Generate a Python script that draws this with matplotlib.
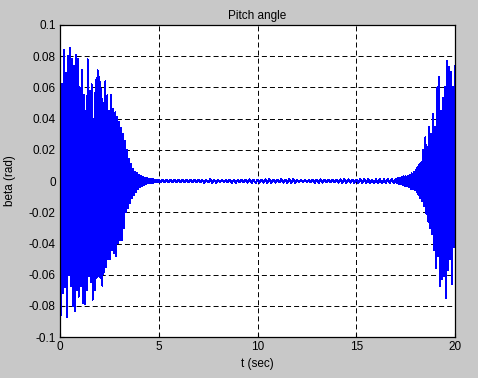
import numpy as np
import matplotlib
matplotlib.use('Agg')
import matplotlib.pyplot as plt

# peak values (upper / lower swing every 0.1 s)
t_left = [0.0, 0.1, 0.2, 0.3, 0.4, 0.5, 0.6, 0.7, 0.8, 0.9,
          1.0, 1.1, 1.2, 1.3, 1.4, 1.5, 1.6, 1.7, 1.8, 1.9,
          2.0, 2.1, 2.2, 2.3, 2.4, 2.5, 2.6, 2.7, 2.8, 2.9,
          3.0, 3.1, 3.2, 3.3, 3.4, 3.5, 3.6, 3.7, 3.8, 3.9,
          4.0, 4.1, 4.2, 4.3, 4.4, 4.5, 4.6, 4.7, 4.8, 4.9]
up_left = [0.087, 0.062, 0.084, 0.069, 0.080, 0.085, 0.078, 0.074, 0.081, 0.078,
           0.060, 0.071, 0.055, 0.045, 0.078, 0.058, 0.062, 0.040, 0.065, 0.071,
           0.067, 0.059, 0.050, 0.064, 0.055, 0.045, 0.055, 0.046, 0.044, 0.041,
           0.038, 0.034, 0.030, 0.026, 0.020, 0.014, 0.011, 0.008, 0.006, 0.005,
           0.004, 0.003, 0.0025, 0.002, 0.0018, 0.0015, 0.0012, 0.0011, 0.0010, 0.0010]
lo_left = [-0.086, -0.072, -0.068, -0.087, -0.060, -0.067, -0.080, -0.083, -0.070, -0.074,
           -0.067, -0.078, -0.079, -0.070, -0.061, -0.065, -0.076, -0.070, -0.062, -0.061,
           -0.062, -0.067, -0.058, -0.055, -0.050, -0.050, -0.044, -0.046, -0.048, -0.040,
           -0.038, -0.038, -0.030, -0.020, -0.017, -0.014, -0.011, -0.009, -0.007, -0.005,
           -0.004, -0.003, -0.0025, -0.002, -0.0016, -0.0014, -0.0011, -0.0010, -0.0009, -0.0008]

# small ripple in the middle (every 0.2 s)
t_mid = [5.0, 5.2, 5.4, 5.6, 5.8, 6.0, 6.2, 6.4, 6.6, 6.8,
         7.0, 7.2, 7.4, 7.6, 7.8, 8.0, 8.2, 8.4, 8.6, 8.8,
         9.0, 9.2, 9.4, 9.6, 9.8, 10.0, 10.2, 10.4, 10.6, 10.8,
         11.0, 11.2, 11.4, 11.6, 11.8, 12.0, 12.2, 12.4, 12.6, 12.8,
         13.0, 13.2, 13.4, 13.6, 13.8, 14.0, 14.2, 14.4, 14.6, 14.8,
         15.0, 15.2, 15.4, 15.6, 15.8, 16.0, 16.2, 16.4, 16.6, 16.8]
up_mid = [0.0009, 0.0008, 0.0009, 0.0007, 0.0008, 0.0009, 0.0008, 0.0007, 0.0008, 0.0009,
          0.0010, 0.0008, 0.0009, 0.0011, 0.0010, 0.0009, 0.0008, 0.0009, 0.0010, 0.0008,
          0.0007, 0.0008, 0.0009, 0.0011, 0.0010, 0.0009, 0.0010, 0.0011, 0.0012, 0.0010,
          0.0009, 0.0011, 0.0010, 0.0012, 0.0011, 0.0009, 0.0008, 0.0007, 0.0008, 0.0009,
          0.0010, 0.0011, 0.0010, 0.0009, 0.0008, 0.0010, 0.0011, 0.0012, 0.0011, 0.0010,
          0.0009, 0.0011, 0.0012, 0.0011, 0.0010, 0.0012, 0.0013, 0.0012, 0.0013, 0.0014]
lo_mid = [-0.0008, -0.0007, -0.0008, -0.0008, -0.0007, -0.0008, -0.0009, -0.0008, -0.0007, -0.0008,
          -0.0009, -0.0010, -0.0009, -0.0011, -0.0010, -0.0009, -0.0008, -0.0009, -0.0010, -0.0011,
          -0.0009, -0.0008, -0.0010, -0.0011, -0.0012, -0.0010, -0.0011, -0.0012, -0.0011, -0.0010,
          -0.0009, -0.0010, -0.0011, -0.0012, -0.0010, -0.0009, -0.0008, -0.0008, -0.0009, -0.0010,
          -0.0011, -0.0010, -0.0009, -0.0008, -0.0009, -0.0011, -0.0012, -0.0011, -0.0010, -0.0011,
          -0.0012, -0.0011, -0.0012, -0.0013, -0.0012, -0.0013, -0.0014, -0.0013, -0.0014, -0.0015]

t_right = [17.0, 17.1, 17.2, 17.3, 17.4, 17.5, 17.6, 17.7, 17.8, 17.9,
           18.0, 18.1, 18.2, 18.3, 18.4, 18.5, 18.6, 18.7, 18.8, 18.9,
           19.0, 19.1, 19.2, 19.3, 19.4, 19.5, 19.6, 19.7, 19.8, 19.9, 20.0]
up_right = [0.0015, 0.0018, 0.0020, 0.0025, 0.0030, 0.0030, 0.0035, 0.0040, 0.0050, 0.0060,
            0.0070, 0.0090, 0.0110, 0.0120, 0.0200, 0.0280, 0.0220, 0.0350, 0.0300, 0.0430,
            0.0350, 0.0600, 0.0670, 0.0450, 0.0530, 0.0600, 0.0770, 0.0730, 0.0700, 0.0600, 0.0740]
lo_right = [-0.0015, -0.0018, -0.0020, -0.0025, -0.0030, -0.0030, -0.0040, -0.0050, -0.0050, -0.0060,
            -0.0070, -0.0090, -0.0110, -0.0130, -0.0160, -0.0210, -0.0260, -0.0300, -0.0340, -0.0440,
            -0.0560, -0.0480, -0.0670, -0.0630, -0.0610, -0.0750, -0.0570, -0.0500, -0.0660, -0.0420, -0.0620]

y_ticks = [-0.1, -0.08, -0.06, -0.04, -0.02, 0, 0.02, 0.04, 0.06, 0.08, 0.1]
y_labels = ['-0.1', '-0.08', '-0.06', '-0.04', '-0.02', '0',
            '0.02', '0.04', '0.06', '0.08', '0.1']
x_ticks = [0, 5, 10, 15, 20]


def zigzag(ts, ups, los, dt):
    # alternate the upper and lower swing so the trace looks like the sampled signal
    tt, yy = [], []
    for t, u, l in zip(ts, ups, los):
        tt += [t, t + dt / 2]
        yy += [u, l]
    return tt, yy


segs = [zigzag(t_left, up_left, lo_left, 0.1),
        zigzag(t_mid, up_mid, lo_mid, 0.2),
        zigzag(t_right, up_right, lo_right, 0.1)]
t_all = np.concatenate([s[0] for s in segs])
y_all = np.concatenate([s[1] for s in segs])
keep = t_all <= 20
t_all, y_all = t_all[keep], y_all[keep]

plt.rcParams['font.family'] = ['Liberation Sans', 'DejaVu Sans']
plt.rcParams['lines.scale_dashes'] = False

fig = plt.figure(figsize=(4.78, 3.78), dpi=100, facecolor='#c8c8c8')
ax = fig.add_axes([0.1255, 0.108, 0.8265, 0.826])
ax.plot(t_all, y_all, color='#0000ff', lw=0.7, antialiased=False)

ax.set_xlim(0, 20)
ax.set_ylim(-0.1, 0.1)
ax.set_xticks(x_ticks)
ax.set_yticks(y_ticks)
ax.set_yticklabels(y_labels)
ax.tick_params(direction='in', length=3, labelsize=8.5, colors='black', pad=3)
ax.grid(True, color='black', linestyle=(0, (3.6, 2.2)), linewidth=0.7)
for s in ax.spines.values():
    s.set_linewidth(0.9)

ax.set_title('Pitch angle', fontsize=8.5, pad=4)
ax.set_xlabel('t (sec)', fontsize=8.5, va='center')
ax.set_ylabel('beta (rad)', fontsize=8.5, va='center')
ax.xaxis.set_label_coords(0.5, -0.087)
ax.yaxis.set_label_coords(-0.127, 0.5)

fig.savefig('out.png', dpi=100, facecolor=fig.get_facecolor())
